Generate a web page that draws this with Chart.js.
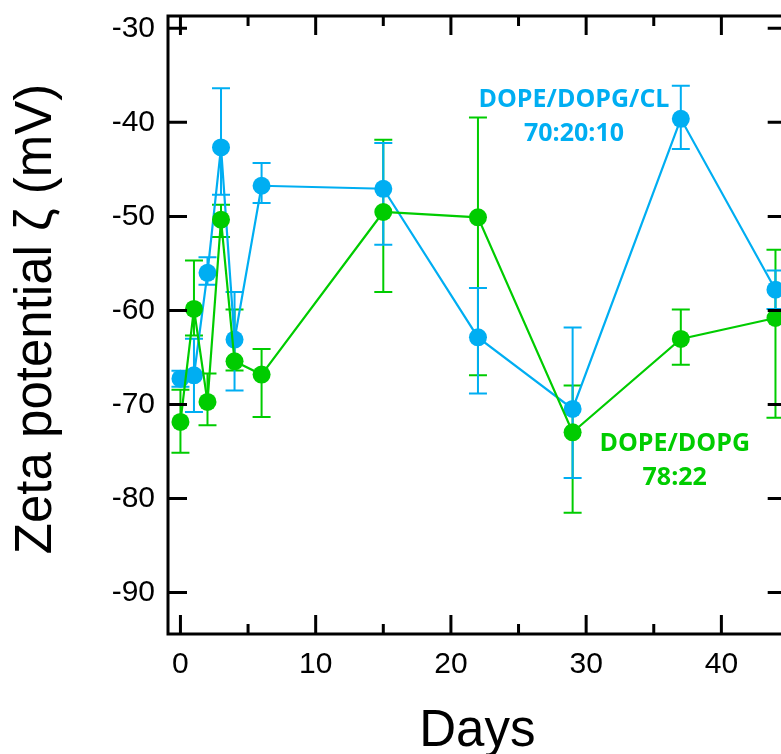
<!DOCTYPE html>
<html>
<head>
<meta charset="utf-8">
<script src="https://cdn.jsdelivr.net/npm/chart.js@4.4.1/dist/chart.umd.min.js"></script>
<style>
  html, body { margin: 0; padding: 0; background: #fff; overflow: hidden; }
  #wrap { width: 800px; height: 754px; }
</style>
</head>
<body>
<div id="wrap"><canvas id="c" width="800" height="754"></canvas></div>
<script>
// Sampling days
const days = [0, 1, 2, 3, 4, 6, 15, 22, 29, 37, 44];

// DOPE/DOPG/CL 70:20:10 — zeta potential (mV) and error bar extents
const clMean  = [-67.25, -66.9, -56.0, -42.66, -63.1, -46.74, -47.06, -62.86, -70.47, -39.62, -57.79];
const clPlus  = [0.85, 3.9, 1.65, 6.3, 5.07, 2.41, 4.86, 5.26, 8.67, 3.51, 2.05];
const clMinus = [0.85, 3.89, 1.26, 5.03, 5.42, 1.84, 5.94, 5.98, 7.33, 3.22, 2.05];

// DOPE/DOPG 78:22 — zeta potential (mV) and error bar extents
const pgMean  = [-71.85, -59.84, -69.72, -50.35, -65.41, -66.82, -49.53, -50.1, -72.95, -63.03, -60.8];
const pgPlus  = [3.43, 5.16, 3.02, 1.59, 5.5, 2.73, 7.68, 10.62, 4.96, 3.12, 7.26];
const pgMinus = [3.29, 2.81, 2.48, 1.84, 0.96, 4.5, 8.5, 16.8, 8.57, 2.73, 10.62];

// Axis ticks
const xTicks = [0, 10, 20, 30, 40];
const xMinorTicks = [5, 15, 25, 35, 45];
const yTicks = [-30, -40, -50, -60, -70, -80, -90];

const BLUE = '#00AEF2';
const GREEN = '#00CC00';
const AXIS_FONT = '"Liberation Sans", Arial, sans-serif';
const Y_TITLE = 'Zeta potential ζ (mV)';

const series = [
  { name: 'DOPE/DOPG 78:22', mean: pgMean, plus: pgPlus, minus: pgMinus, color: GREEN },
  { name: 'DOPE/DOPG/CL 70:20:10', mean: clMean, plus: clPlus, minus: clMinus, color: BLUE }
];

// Error bars under the markers, boxed frame with inward ticks, axis title and series labels
const decor = {
  id: 'decor',
  beforeDatasetsDraw(chart) {
    const { ctx, scales: { x, y } } = chart;
    series.forEach(s => {
      ctx.save();
      ctx.strokeStyle = s.color;
      ctx.lineWidth = 2;
      days.forEach((d, i) => {
        const px = x.getPixelForValue(d);
        const top = y.getPixelForValue(s.mean[i] + s.plus[i]);
        const bot = y.getPixelForValue(s.mean[i] - s.minus[i]);
        ctx.beginPath();
        ctx.moveTo(px, top); ctx.lineTo(px, bot);
        ctx.moveTo(px - 9, top); ctx.lineTo(px + 9, top);
        ctx.moveTo(px - 9, bot); ctx.lineTo(px + 9, bot);
        ctx.stroke();
      });
      ctx.restore();
    });
  },
  afterDraw(chart) {
    const { ctx, chartArea: a, scales: { x, y } } = chart;
    ctx.save();
    ctx.strokeStyle = '#000';
    ctx.lineWidth = 3;
    ctx.strokeRect(a.left, a.top, a.right - a.left, a.bottom - a.top);
    ctx.beginPath();
    xTicks.forEach(v => {
      const px = x.getPixelForValue(v);
      ctx.moveTo(px, a.bottom); ctx.lineTo(px, a.bottom - 19);
      ctx.moveTo(px, a.top); ctx.lineTo(px, a.top + 19);
    });
    xMinorTicks.forEach(v => {
      const px = x.getPixelForValue(v);
      ctx.moveTo(px, a.bottom); ctx.lineTo(px, a.bottom - 10);
      ctx.moveTo(px, a.top); ctx.lineTo(px, a.top + 10);
    });
    yTicks.forEach(v => {
      const py = y.getPixelForValue(v);
      ctx.moveTo(a.left, py); ctx.lineTo(a.left + 19, py);
      ctx.moveTo(a.right, py); ctx.lineTo(a.right - 19, py);
    });
    ctx.stroke();

    // Vertical axis title
    ctx.save();
    ctx.fillStyle = '#000';
    ctx.font = '51px ' + AXIS_FONT;
    ctx.textAlign = 'center';
    ctx.textBaseline = 'middle';
    ctx.translate(37, 319);
    ctx.rotate(-Math.PI / 2);
    ctx.fillText(Y_TITLE, 0, 0);
    ctx.restore();

    // Series labels
    ctx.font = 'bold 25px "Open Sans", sans-serif';
    ctx.textAlign = 'center';
    ctx.textBaseline = 'middle';
    const label = (lines, dx, dy, color) => {
      ctx.fillStyle = color;
      const px = x.getPixelForValue(dx);
      const py = y.getPixelForValue(dy);
      lines.forEach((t, k) => ctx.fillText(t, px, py + k * 34));
    };
    label(['DOPE/DOPG/CL', '70:20:10'], 29.1, -37.6, BLUE);
    label(['DOPE/DOPG', '78:22'], 36.55, -74.2, GREEN);
    ctx.restore();
  }
};

new Chart(document.getElementById('c'), {
  type: 'line',
  data: {
    datasets: series.map(s => ({
      label: s.name,
      data: days.map((d, i) => ({ x: d, y: s.mean[i] })),
      borderColor: s.color,
      backgroundColor: s.color,
      borderWidth: 2.2,
      pointRadius: 9,
      pointHoverRadius: 9,
      pointBorderWidth: 0,
      pointBackgroundColor: s.color,
      tension: 0,
      fill: false
    }))
  },
  options: {
    responsive: false,
    devicePixelRatio: 1,
    animation: false,
    events: [],
    layout: { padding: { top: 16, right: 13.3, left: 0, bottom: 0 } },
    plugins: { legend: { display: false }, tooltip: { enabled: false } },
    scales: {
      x: {
        type: 'linear',
        min: -0.92,
        max: 44.83,
        afterBuildTicks: s => { s.ticks = xTicks.map(v => ({ value: v })); },
        afterFit: s => { s.height = 120; s.paddingLeft = 0; s.paddingRight = 0; },
        grid: { display: false, drawTicks: false },
        border: { display: false },
        ticks: { color: '#000', padding: 13, maxRotation: 0, font: { family: AXIS_FONT, size: 30 } },
        title: { display: true, text: 'Days', color: '#000', padding: { top: 0, bottom: 0 },
                 font: { family: AXIS_FONT, size: 51, lineHeight: 0.88 } }
      },
      y: {
        type: 'linear',
        min: -94.4,
        max: -28.69,
        afterBuildTicks: s => { s.ticks = yTicks.map(v => ({ value: v })); },
        afterFit: s => { s.width = 168; s.paddingTop = 0; s.paddingBottom = 0; },
        grid: { display: false, drawTicks: false },
        border: { display: false },
        ticks: { color: '#000', padding: 13, font: { family: AXIS_FONT, size: 30 } }
      }
    }
  },
  plugins: [decor]
});
</script>
</body>
</html>
